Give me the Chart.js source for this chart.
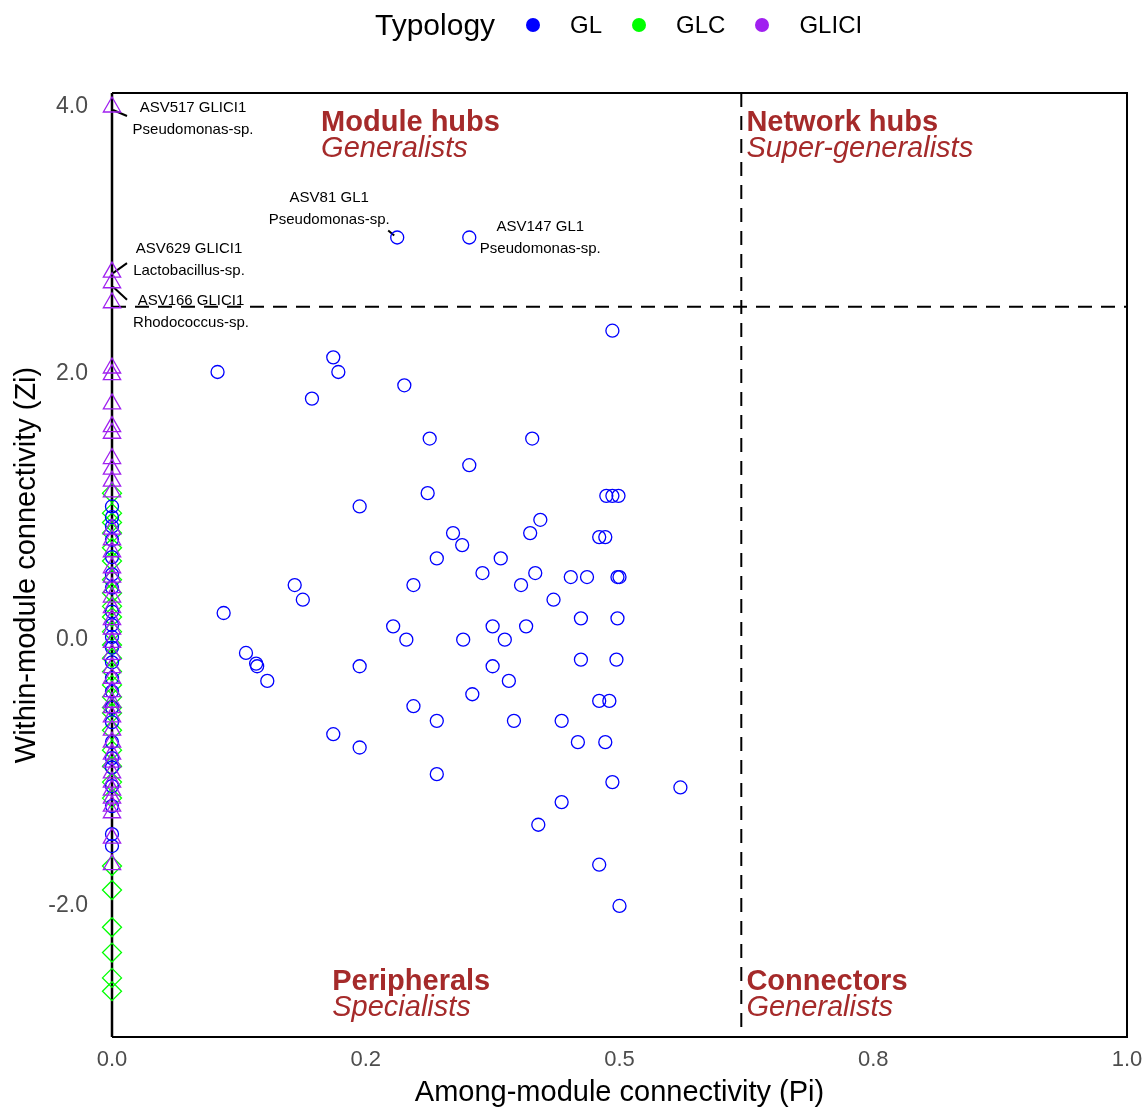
<!DOCTYPE html>
<html>
<head>
<meta charset="utf-8">
<script src="https://cdn.jsdelivr.net/npm/chart.js@4.4.1/dist/chart.umd.min.js"></script>
<style>
  html, body { margin: 0; padding: 0; background: #fff; }
  #wrap { position: relative; width: 1144px; height: 1109px; }
  #zi-chart { position: absolute; left: 0; top: 0; }
  #legend {
    position: absolute; top: 7px; left: 375px; height: 36px;
    display: flex; align-items: center; gap: 30px;
    font-family: 'Liberation Sans', Arial, sans-serif; color: #000;
  }
  #legend .title { font-size: 30px; margin-right: 1px; }
  #legend .item { font-size: 24px; }
  #legend .dot { width: 14px; height: 14px; border-radius: 50%; display: inline-block; }
</style>
</head>
<body>
<div id="wrap">
  <canvas id="zi-chart" width="1144" height="1109"></canvas>
  <div id="legend"></div>
</div>
<script>
// GL nodes (blue circles)
const glPi = [0.281, 0.352, 0.493, 0.218, 0.104, 0.223, 0.288, 0.197, 0.313, 0.414,
  0.352, 0.311, 0.487, 0.493, 0.499, 0.244, 0.422, 0.336, 0.412, 0.480,
  0.486, 0.345, 0.320, 0.383, 0.365, 0.417, 0.452, 0.468, 0.498, 0.500,
  0.180, 0.297, 0.403, 0.188, 0.435, 0.110, 0.462, 0.498, 0.277, 0.375,
  0.408, 0.290, 0.346, 0.387, 0.132, 0.142, 0.143, 0.244, 0.375, 0.462,
  0.497, 0.153, 0.391, 0.355, 0.297, 0.480, 0.490, 0.320, 0.396, 0.443,
  0.218, 0.459, 0.486, 0.244, 0.320, 0.493, 0.560, 0.443, 0.420, 0.480,
  0.500,
  0, 0, 0, 0, 0, 0, 0, 0, 0, 0, 0, 0, 0, 0, 0, 0, 0, 0, 0, 0, 0, 0, 0];
const glZi = [3.02, 3.02, 2.32, 2.12, 2.01, 2.01, 1.91, 1.81, 1.51, 1.51,
  1.31, 1.10, 1.08, 1.08, 1.08, 1.00, 0.90, 0.80, 0.80, 0.77,
  0.77, 0.71, 0.61, 0.61, 0.50, 0.50, 0.47, 0.47, 0.47, 0.47,
  0.41, 0.41, 0.41, 0.30, 0.30, 0.20, 0.16, 0.16, 0.10, 0.10,
  0.10, 0.00, 0.00, 0.00, -0.10, -0.18, -0.20, -0.20, -0.20, -0.15,
  -0.15, -0.31, -0.31, -0.41, -0.50, -0.46, -0.46, -0.61, -0.61, -0.61,
  -0.71, -0.77, -0.77, -0.81, -1.01, -1.07, -1.11, -1.22, -1.39, -1.69,
  -2.00,
  1.00, 0.92, 0.85, 0.75, 0.62, 0.49, 0.39, 0.21, 0.11, 0.02, -0.06, -0.17,
  -0.29, -0.39, -0.51, -0.62, -0.77, -0.89, -0.96, -1.10, -1.25, -1.46, -1.55];

// GLC nodes (green diamonds), all sit at Pi = 0
const glcZi = [1.10, 0.95, 0.88, 0.80, 0.69, 0.59, 0.45, 0.35, 0.25, 0.17,
  0.06, -0.04, -0.14, -0.24, -0.34, -0.43, -0.51, -0.55, -0.68, -0.83,
  -0.95, -1.07, -1.19, -1.70, -1.88, -2.16, -2.35, -2.54, -2.64];

// GLICI nodes (purple triangles), all sit at Pi = 0
const gliciZi = [4.00, 2.76, 2.68, 2.53, 2.04, 1.99, 1.77, 1.60, 1.55, 1.36,
  1.28, 1.19, 1.11, 0.83, 0.75, 0.66, 0.54, 0.47, 0.39, 0.32,
  0.24, 0.15, 0.08, -0.02, -0.11, -0.21, -0.29, -0.39, -0.47, -0.51,
  -0.58, -0.68, -0.77, -0.86, -0.92, -1.00, -1.07, -1.13, -1.19, -1.25,
  -1.30, -1.49, -1.69];

// labelled nodes
const labelIds = ['ASV517 GLICI1', 'ASV81 GL1', 'ASV147 GL1', 'ASV629 GLICI1', 'ASV166 GLICI1'];
const labelTaxa = ['Pseudomonas-sp.', 'Pseudomonas-sp.', 'Pseudomonas-sp.', 'Lactobacillus-sp.', 'Rhodococcus-sp.'];
const labelPi = [0, 0.281, 0.352, 0, 0];
const labelZi = [4.00, 3.02, 3.02, 2.76, 2.68];

// thresholds and axes
const piCut = 0.62;
const ziCut = 2.5;
const xTickValues = [0, 0.25, 0.5, 0.75, 1];
const xTickLabels = ['0.0', '0.2', '0.5', '0.8', '1.0'];
const yTickValues = [-2, 0, 2, 4];
const yTickLabels = ['-2.0', '0.0', '2.0', '4.0'];

const typologies = ['GL', 'GLC', 'GLICI'];
const typologyColors = ['#0000FF', '#00FF00', '#A020F0'];

const FONT = "'Liberation Sans', Arial, sans-serif";
const BROWN = '#A52A2A';

// legend as plain html
const legend = document.getElementById('legend');
legend.innerHTML = '<span class="title">Typology</span>' + typologies.map((t, i) =>
  `<span class="dot" style="background:${typologyColors[i]}"></span><span class="item">${t}</span>`).join('');

// quadrant captions: [bold, italic, pi, zi of the bold baseline]
const quadrants = [
  ['Module hubs', 'Generalists', 0.206, 3.822],
  ['Network hubs', 'Super-generalists', 0.625, 3.822],
  ['Peripherals', 'Specialists', 0.217, -2.628],
  ['Connectors', 'Generalists', 0.625, -2.628]
];
// pixel offsets of each label from its node, and its leader segment
const labelOffsets = [[81, 1], [-68, -40], [71, -11], [77, -23], [79, 18]];
const labelSegments = [[1, 3, 15, 9], [-9, -7, -3, -2], null, [1, 1, 15, -9], [1, 4, 15, 17]];

const decorPlugin = {
    id: 'decor',
    beforeDatasetsDraw(chart) {
        const { ctx, chartArea: a, scales: { x, y } } = chart;
        ctx.save();
        // quadrant captions
        ctx.fillStyle = BROWN;
        ctx.textAlign = 'left';
        ctx.textBaseline = 'alphabetic';
        quadrants.forEach(q => {
            const px = x.getPixelForValue(q[2]);
            const py = y.getPixelForValue(q[3]);
            ctx.font = `bold 29px ${FONT}`;
            ctx.fillText(q[0], px, py);
            ctx.font = `italic 29px ${FONT}`;
            ctx.fillText(q[1], px, py + 26);
        });
        // node labels
        ctx.fillStyle = '#000';
        ctx.strokeStyle = '#000';
        ctx.lineWidth = 2;
        ctx.font = `15px ${FONT}`;
        ctx.textAlign = 'center';
        ctx.textBaseline = 'middle';
        labelIds.forEach((id, i) => {
            const px = x.getPixelForValue(labelPi[i]);
            const py = y.getPixelForValue(labelZi[i]);
            const [dx, dy] = labelOffsets[i];
            ctx.fillText(id, px + dx, py + dy);
            ctx.fillText(labelTaxa[i], px + dx, py + dy + 22);
            const s = labelSegments[i];
            if (s) {
                ctx.beginPath();
                ctx.moveTo(px + s[0], py + s[1]);
                ctx.lineTo(px + s[2], py + s[3]);
                ctx.stroke();
            }
        });
        // threshold lines
        ctx.setLineDash([14, 9]);
        ctx.lineWidth = 2;
        const cx = x.getPixelForValue(piCut);
        const cy = y.getPixelForValue(ziCut);
        ctx.beginPath();
        ctx.moveTo(cx, a.top);
        ctx.lineTo(cx, a.bottom);
        ctx.moveTo(a.left, cy);
        ctx.lineTo(a.right, cy);
        ctx.stroke();
        // left axis line under the nodes
        ctx.setLineDash([]);
        ctx.lineWidth = 2.5;
        ctx.beginPath();
        ctx.moveTo(a.left, a.top);
        ctx.lineTo(a.left, a.bottom);
        ctx.stroke();
        ctx.restore();
    },
    afterDatasetsDraw(chart) {
        const { ctx, chartArea: a } = chart;
        ctx.save();
        ctx.strokeStyle = '#000';
        ctx.lineWidth = 2;
        ctx.beginPath();
        ctx.moveTo(a.left, a.top);
        ctx.lineTo(a.right, a.top);
        ctx.lineTo(a.right, a.bottom);
        ctx.lineTo(a.left, a.bottom);
        ctx.stroke();
        ctx.restore();
    }
};

const pointBase = { showLine: false, clip: false, backgroundColor: 'rgba(0,0,0,0)', pointBorderWidth: 1.3 };

new Chart(document.getElementById('zi-chart'), {
    type: 'scatter',
    data: {
        datasets: [
            {
                ...pointBase, label: 'GLICI',
                data: gliciZi.map(v => ({ x: 0, y: v })),
                borderColor: typologyColors[2], pointStyle: 'triangle', pointRadius: 10
            },
            {
                ...pointBase, label: 'GL',
                data: glPi.map((p, i) => ({ x: p, y: glZi[i] })),
                borderColor: typologyColors[0], pointStyle: 'circle', pointRadius: 6.5
            },
            {
                ...pointBase, label: 'GLC',
                data: glcZi.map(v => ({ x: 0, y: v })),
                borderColor: typologyColors[1], pointStyle: 'rectRot', pointRadius: 9.5
            }
        ]
    },
    options: {
        responsive: false,
        animation: false,
        devicePixelRatio: 1,
        events: [],
        layout: { padding: { top: 93, right: 17, bottom: 0, left: 0 } },
        plugins: { legend: { display: false }, tooltip: { enabled: false } },
        scales: {
            x: {
                type: 'linear', min: 0, max: 1,
                grid: { display: false, drawTicks: false },
                border: { display: false },
                afterBuildTicks: s => { s.ticks = xTickValues.map(v => ({ value: v })); },
                afterFit: s => { s.height = 72; s.paddingLeft = 0; s.paddingRight = 0; },
                ticks: {
                    padding: 10, color: '#4D4D4D', font: { family: FONT, size: 22 },
                    maxRotation: 0, callback: (v, i) => xTickLabels[i]
                },
                title: {
                    display: true, text: 'Among-module connectivity (Pi)', color: '#000',
                    font: { family: FONT, size: 29, lineHeight: 1 }, padding: { top: 0, bottom: 2 }
                }
            },
            y: {
                type: 'linear', min: -2.984, max: 4.105,
                grid: { display: false, drawTicks: false },
                border: { display: false },
                afterBuildTicks: s => { s.ticks = yTickValues.map(v => ({ value: v })); },
                afterFit: s => { s.width = 112; s.paddingTop = 0; s.paddingBottom = 0; },
                ticks: {
                    padding: 24, color: '#4D4D4D', font: { family: FONT, size: 23 },
                    callback: (v, i) => yTickLabels[i]
                },
                title: {
                    display: true, text: 'Within-module connectivity (Zi)', color: '#000',
                    font: { family: FONT, size: 29, lineHeight: 1 }, padding: { top: 12, bottom: 0 }
                }
            }
        }
    },
    plugins: [decorPlugin]
});
</script>
</body>
</html>
